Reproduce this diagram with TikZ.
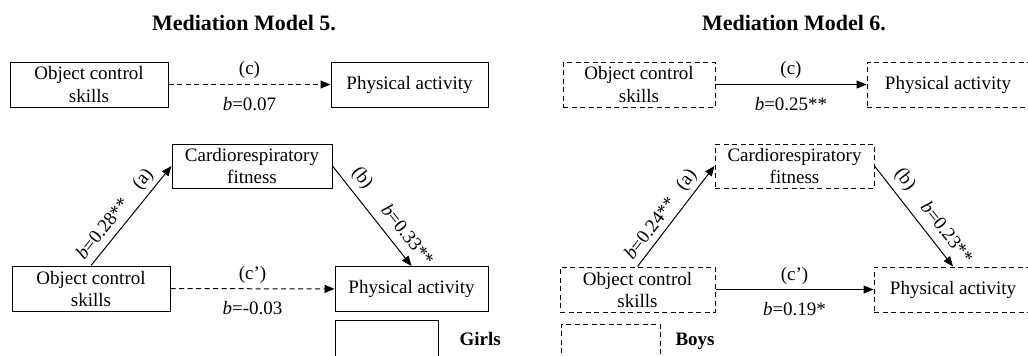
\documentclass[tikz,border=0pt]{standalone}
\usepackage{fontspec}
\setmainfont{Liberation Serif}
\usetikzlibrary{arrows.meta}
\begin{document}
\begin{tikzpicture}[x=1pt,y=-1pt,
  every node/.style={font=\fontsize{19}{22}\selectfont},
  solidbox/.style={draw, line width=1pt, align=center, inner sep=0pt, minimum height=45pt},
  dashbox/.style={solidbox, dash pattern=on 5pt off 3.5pt},
  arr/.style={line width=1pt, -{Triangle[length=10pt,width=8pt]}},
  darr/.style={arr, dash pattern=on 5pt off 3.5pt},
  ttl/.style={font=\fontsize{22}{26}\selectfont\bfseries, anchor=base},
  leg/.style={font=\fontsize{19}{22}\selectfont\bfseries, anchor=base west},
]
\useasboundingbox (0,0) rectangle (1028,356);
\clip (0,0) rectangle (1028,356);

% ---------- Left panel: Mediation Model 5 ----------
\node[ttl] (t5) at (244,30) {Mediation Model 5.};
\node[solidbox, minimum width=158pt] (ocs1) at (89,84.5) {Object control\\skills};
\node[solidbox, minimum width=157pt] (pa1) at (409.5,84.5) {Physical activity};
\node[solidbox, minimum width=160pt, minimum height=44pt] (cf1) at (252,166) {Cardiorespiratory\\fitness};
\node[solidbox, minimum width=158pt] (ocs2) at (91,288.5) {Object control\\skills};
\node[solidbox, minimum width=153pt] (pa2) at (411.5,289) {Physical activity};
\node[draw, line width=1pt, minimum width=103pt, minimum height=50pt, inner sep=0pt] (lg1) at (386.5,345) {};
\node[leg] (g1) at (456,345) {Girls};

\draw[darr] (ocs1) -- node[above=2pt]{(c)} node[below=9pt]{\textit{b}=0.07} (pa1);
\draw[darr] (ocs2) -- node[above=1pt]{(c’)} node[below=9pt]{\textit{b}=-0.03} (pa2);
\draw[arr] (ocs2.north) -- node[pos=0.28, sloped, above=4pt]{\textit{b}=0.28**} node[pos=0.78, sloped, above=1pt]{(a)} (cf1.west);
\draw[arr] (cf1.east) -- node[pos=0.22, sloped, above=3pt]{(b)} node[pos=0.79, sloped, above=6pt]{\textit{b}=0.33**} (pa2.north);

% ---------- Right panel: Mediation Model 6 ----------
\node[ttl] (t6) at (794,30) {Mediation Model 6.};
\node[dashbox, minimum width=152pt] (ocs3) at (639,84.5) {Object control\\skills};
\node[dashbox, minimum width=162pt] (pa3) at (948,84.5) {Physical activity};
\node[dashbox, minimum width=159pt, minimum height=44pt] (cf3) at (794.5,166) {Cardiorespiratory\\fitness};
\node[dashbox, minimum width=155pt] (ocs4) at (637.5,289.5) {Object control\\skills};
\node[dashbox, minimum width=158pt] (pa4) at (953,289.5) {Physical activity};
\node[draw, line width=1pt, dash pattern=on 5pt off 3.5pt, minimum width=99pt, minimum height=50pt, inner sep=0pt] (lg2) at (610.5,349) {};
\node[leg] (g2) at (672,345) {Boys};

\draw[arr] (ocs3) -- node[above=2pt]{(c)} node[below=9pt]{\textit{b}=0.25**} (pa3);
\draw[arr] (ocs4) -- node[above=1pt]{(c’)} node[below=9pt]{\textit{b}=0.19*} (pa4);
\draw[arr] (ocs4.north) -- node[pos=0.3, sloped, above=3pt]{\textit{b}=0.24**} node[pos=0.78, sloped, above=1pt]{(a)} (cf3.west);
\draw[arr] (cf3.east) -- node[pos=0.23, sloped, above=3pt]{(b)} node[pos=0.76, sloped, above=6pt]{\textit{b}=0.23**} (pa4.north);
\end{tikzpicture}
\end{document}
